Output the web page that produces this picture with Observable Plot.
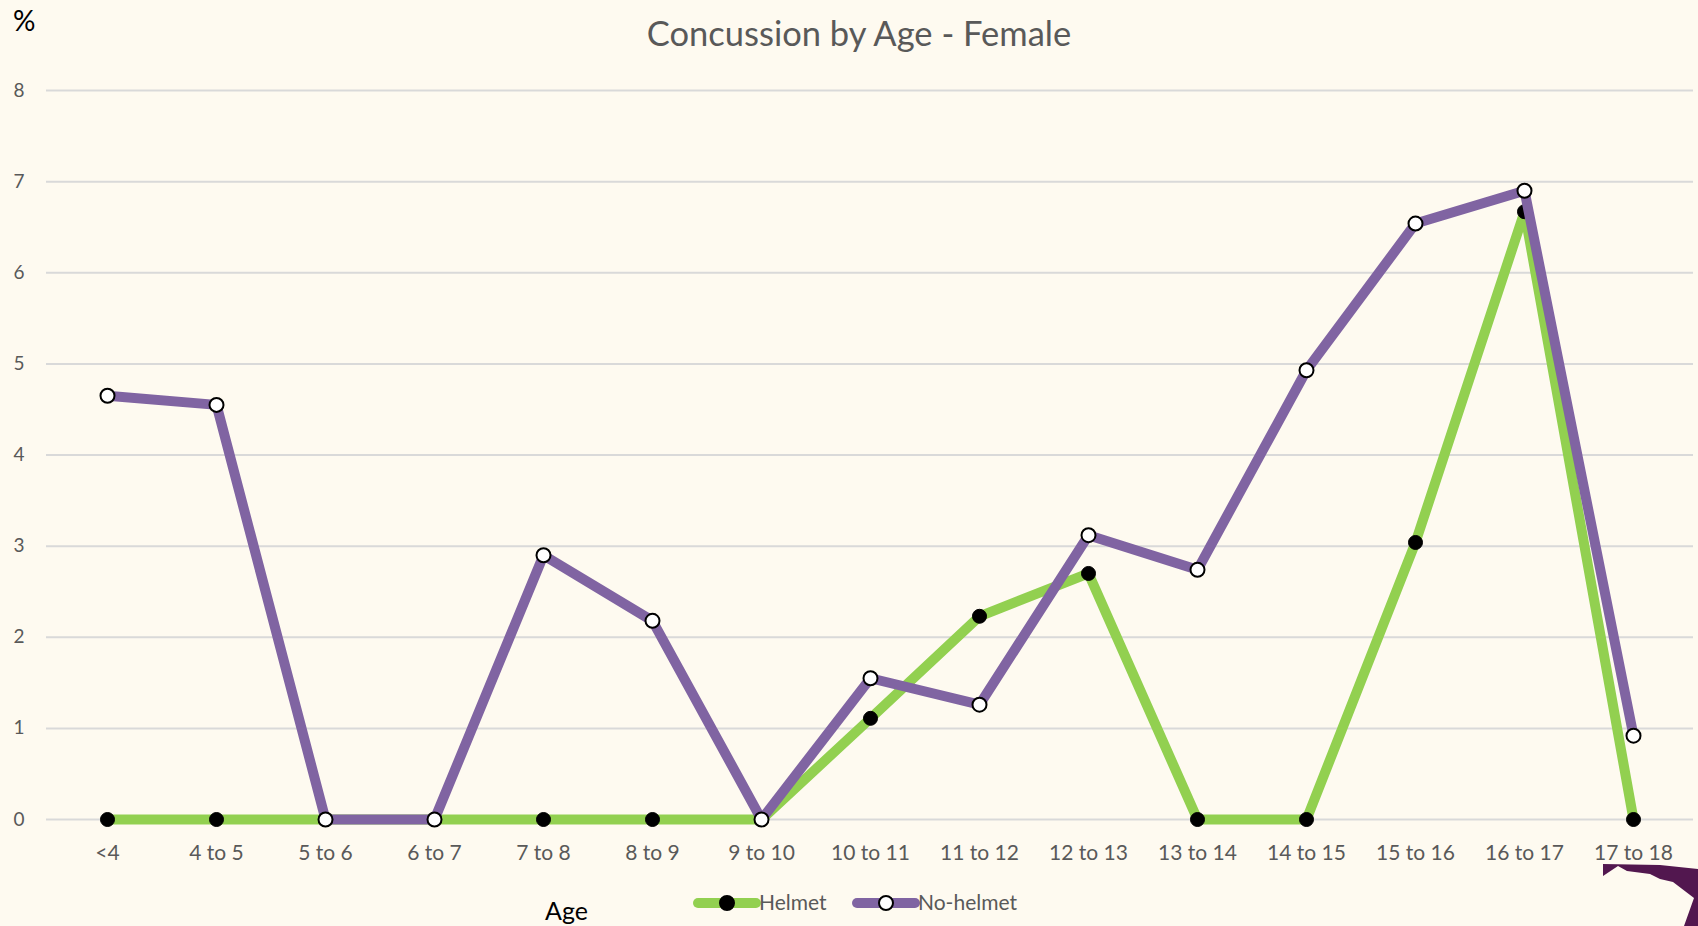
<!DOCTYPE html>
<html>
<head>
<meta charset="utf-8">
<script src="https://cdn.jsdelivr.net/npm/d3@7"></script>
<script src="https://cdn.jsdelivr.net/npm/@observablehq/plot@0.6"></script>
<style>
  html, body { margin: 0; padding: 0; background: #fefaf0; }
  #wrap { position: relative; width: 1698px; height: 926px; background: #fefaf0; overflow: hidden; font-family: Lato, "Open Sans", sans-serif; }
  #chart { position: absolute; left: 0; top: 0; }
  #title { position: absolute; left: 10px; width: 1698px; top: 16px; text-align: center; font-size: 34.5px; color: #595959; line-height: 1; }
  #pct { position: absolute; left: 13px; top: 6px; font-size: 28px; color: #000; line-height: 1; }
  #age { position: absolute; left: 545px; top: 898px; font-size: 25px; color: #000; line-height: 1; }
  #overlay { position: absolute; left: 0; top: 0; pointer-events: none; }
</style>
</head>
<body>
<div id="wrap">
  <div id="title">Concussion by Age - Female</div>
  <div id="pct">%</div>
  <div id="age">Age</div>
</div>
<script>
const categories = ["<4", "4 to 5", "5 to 6", "6 to 7", "7 to 8", "8 to 9", "9 to 10", "10 to 11", "11 to 12", "12 to 13", "13 to 14", "14 to 15", "15 to 16", "16 to 17", "17 to 18"];
const helmet   = [0, 0, 0, 0, 0, 0, 0, 1.11, 2.23, 2.70, 0, 0, 3.04, 6.67, 0];
const noHelmet = [4.65, 4.55, 0, 0, 2.90, 2.18, 0, 1.55, 1.26, 3.12, 2.74, 4.93, 6.54, 6.90, 0.92];
const yTicks = [0, 1, 2, 3, 4, 5, 6, 7, 8];
const seriesNames = ["Helmet", "No-helmet"];
const colors = { Helmet: "#92d050", "No-helmet": "#8064a2" };

const data = categories.map((age, i) => ({ age, helmet: helmet[i], noHelmet: noHelmet[i] }));

const ns = "http://www.w3.org/2000/svg";
const ov = document.createElementNS(ns, "svg");
ov.setAttribute("id", "overlay");
ov.setAttribute("width", 1698);
ov.setAttribute("height", 926);
function el(tag, attrs, text) {
  const e = document.createElementNS(ns, tag);
  for (const k in attrs) e.setAttribute(k, attrs[k]);
  if (text) e.textContent = text;
  ov.appendChild(e);
  return e;
}
// corner decoration (behind the chart)
el("path", { d: "M1603,864 L1660,865 L1698,869 L1698,926 L1684,926 L1694,898 L1673,882 L1660,879 L1650,874 L1627,871 L1618,866 L1603,876 Z", fill: "#52174f" });
const legendItems = [
  { name: seriesNames[0], x0: 698, dotFill: "#000" },
  { name: seriesNames[1], x0: 857, dotFill: "#fff" }
];
for (const it of legendItems) {
  el("line", { x1: it.x0, x2: it.x0 + 58, y1: 903, y2: 903, stroke: colors[it.name], "stroke-width": 10, "stroke-linecap": "round" });
  el("circle", { cx: it.x0 + 29, cy: 903, r: 7, fill: it.dotFill, stroke: "#000", "stroke-width": 2 });
  el("text", { x: it.x0 + 61, y: 910, "font-size": 21, fill: "#595959", "font-family": "Lato, 'Open Sans', sans-serif" }, it.name);
}
const wrap = document.getElementById("wrap");
wrap.insertBefore(ov, wrap.firstChild);

const chart = Plot.plot({
  width: 1698,
  height: 926,
  marginTop: 90,
  marginBottom: 107,
  marginLeft: 46,
  marginRight: 5,
  style: { background: "transparent", fontFamily: "Lato, 'Open Sans', sans-serif", fontSize: "19px", color: "#595959" },
  x: { type: "point", domain: categories, range: [101.5, 1639], padding: 0, label: null },
  y: { domain: [0, 8], label: null },
  marks: [
    Plot.gridY(yTicks, { stroke: "#d9d9d9", strokeWidth: 2, strokeOpacity: 1 }),
    Plot.axisY(yTicks, { tickSize: 0, tickPadding: 22, label: null, fill: "#595959", fontSize: 19, tickFormat: d => String(d) }),
    Plot.axisX({ tickSize: 0, tickPadding: 26, label: null, fill: "#595959", fontSize: 21 }),
    Plot.lineY(data, { x: "age", y: "helmet", stroke: colors.Helmet, strokeWidth: 10, strokeLinejoin: "round" }),
    Plot.dot(data, { x: "age", y: "helmet", r: 7, fill: "#000", stroke: "#000", strokeWidth: 1 }),
    Plot.lineY(data, { x: "age", y: "noHelmet", stroke: colors["No-helmet"], strokeWidth: 10, strokeLinejoin: "round" }),
    Plot.dot(data, { x: "age", y: "noHelmet", r: 7, fill: "#fff", stroke: "#000", strokeWidth: 2 })
  ]
});
const holder = document.createElement("div");
holder.id = "chart";
holder.appendChild(chart);
wrap.insertBefore(holder, ov.nextSibling);
</script>
</body>
</html>
